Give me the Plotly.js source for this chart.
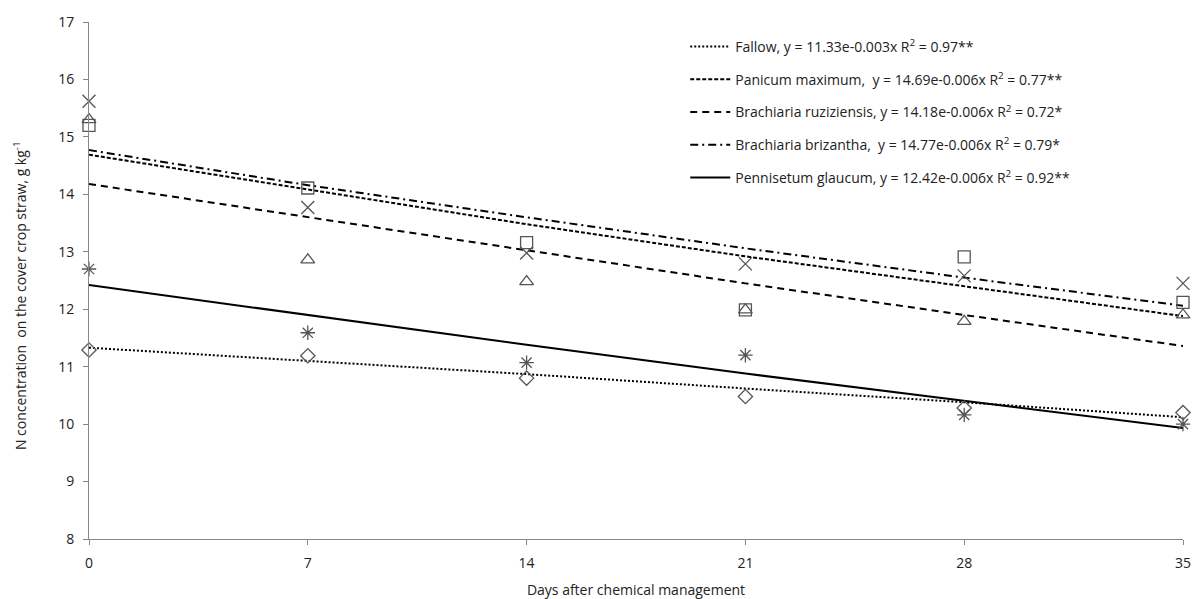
<!DOCTYPE html>
<html>
<head>
<meta charset="utf-8">
<script src="https://cdn.plot.ly/plotly-3.0.1.min.js"></script>
<style>html,body{margin:0;padding:0;background:#fff;}#chart{width:1193px;height:599px;}</style>
</head>
<body>
<div id="chart"></div>
<script>
const days = [0, 7, 14, 21, 28, 35];
const xTicks = [0, 7, 14, 21, 28, 35];

// observed values
const fallowObs = [11.29, 11.19, 10.8, 10.48, 10.28, 10.2];
const panicumObs = [15.2, 14.11, 13.16, 11.99, 12.91, 12.12];
const ruziziensisObs = [15.3, 12.86, 12.48, 11.99, 11.79, 11.9];
const brizanthaObs = [15.62, 13.77, 12.98, 12.79, 12.58, 12.45];
const pennisetumObs = [12.7, 11.59, 11.07, 11.2, 10.16, 10.0];

// fitted trend lines
const fallowFit = [11.33, 11.1, 10.87, 10.62, 10.38, 10.12];
const panicumFit = [14.69, 14.08, 13.48, 12.92, 12.4, 11.88];
const ruziziensisFit = [14.18, 13.6, 13.02, 12.45, 11.9, 11.36];
const brizanthaFit = [14.77, 14.16, 13.6, 13.06, 12.55, 12.06];
const pennisetumFit = [12.42, 11.9, 11.38, 10.88, 10.4, 9.93];

const legendNames = [
  "Fallow, y = 11.33e-0.003x R<sup>2</sup> = 0.97**",
  "Panicum maximum,  y = 14.69e-0.006x R<sup>2</sup> = 0.77**",
  "Brachiaria ruziziensis, y = 14.18e-0.006x R<sup>2</sup> = 0.72*",
  "Brachiaria brizantha,  y = 14.77e-0.006x R<sup>2</sup> = 0.79*",
  "Pennisetum glaucum, y = 12.42e-0.006x R<sup>2</sup> = 0.92**"
];
const yTitle = 'N concentration  on the cover crop straw, g kg<sup>-1</sup>';
const xTitle = 'Days after chemical management';

const obsSets = [fallowObs, panicumObs, ruziziensisObs, brizanthaObs, pennisetumObs];
const fitSets = [fallowFit, panicumFit, ruziziensisFit, brizanthaFit, pennisetumFit];
const symbols = ['diamond-open', 'square-open', 'triangle-up-open', 'x-thin-open', 'asterisk-open'];
const sizes = [11, 12, 12, 13, 12];
const dashes = ['2px,2px', '4px,2px', '7px,5px', '8px,4px,2px,4px', 'solid'];

const traces = [];
fitSets.forEach((fit, i) => {
  traces.push({
    x: days, y: fit, type: 'scatter', mode: 'lines',
    name: legendNames[i], legendgroup: 'g' + i,
    line: {color: '#000', width: 2, dash: dashes[i]},
    hoverinfo: 'skip'
  });
});
obsSets.forEach((obs, i) => {
  traces.push({
    x: days, y: obs, type: 'scatter', mode: 'markers',
    showlegend: false, cliponaxis: false,
    marker: {symbol: symbols[i], size: sizes[i], color: '#555',
             line: {color: '#555', width: 1.3}}
  });
});

const FONT = 'Open Sans, Noto Sans, sans-serif';
const layout = {
  width: 1193, height: 599,
  margin: {l: 89, r: 10, t: 22, b: 60},
  paper_bgcolor: '#fff', plot_bgcolor: '#fff',
  font: {family: FONT, size: 14, color: '#222'},
  showlegend: true,
  legend: {
    x: 0.545, y: 0.983, xanchor: 'left', yanchor: 'top',
    traceorder: 'grouped', tracegroupgap: 11.6, itemwidth: 40,
    font: {family: FONT, size: 14, color: '#222'}, bgcolor: 'rgba(255,255,255,0)'
  },
  xaxis: {
    range: [0, 35], tickvals: xTicks, ticktext: xTicks.map(String),
    showgrid: false, zeroline: false, showline: true, linecolor: '#888', linewidth: 1,
    ticks: 'outside', ticklen: 5, tickcolor: '#888', ticklabelstandoff: 6,
    tickfont: {family: FONT, size: 14, color: '#222'},
    title: {text: xTitle, font: {family: FONT, size: 14, color: '#222'}, standoff: 14}
  },
  yaxis: {
    range: [8, 17], dtick: 1, tick0: 8,
    showgrid: false, zeroline: false, showline: true, linecolor: '#888', linewidth: 1,
    ticks: 'outside', ticklen: 5, tickcolor: '#888', ticklabelstandoff: 6,
    tickfont: {family: FONT, size: 14, color: '#222'}
  },
  annotations: [{
    text: yTitle, textangle: -90, showarrow: false,
    xref: 'paper', yref: 'paper', x: -0.063, y: 0.47,
    xanchor: 'center', yanchor: 'middle',
    font: {family: FONT, size: 14, color: '#222'}
  }]
};

Plotly.newPlot('chart', traces, layout, {displayModeBar: false, staticPlot: true});
</script>
</body>
</html>
